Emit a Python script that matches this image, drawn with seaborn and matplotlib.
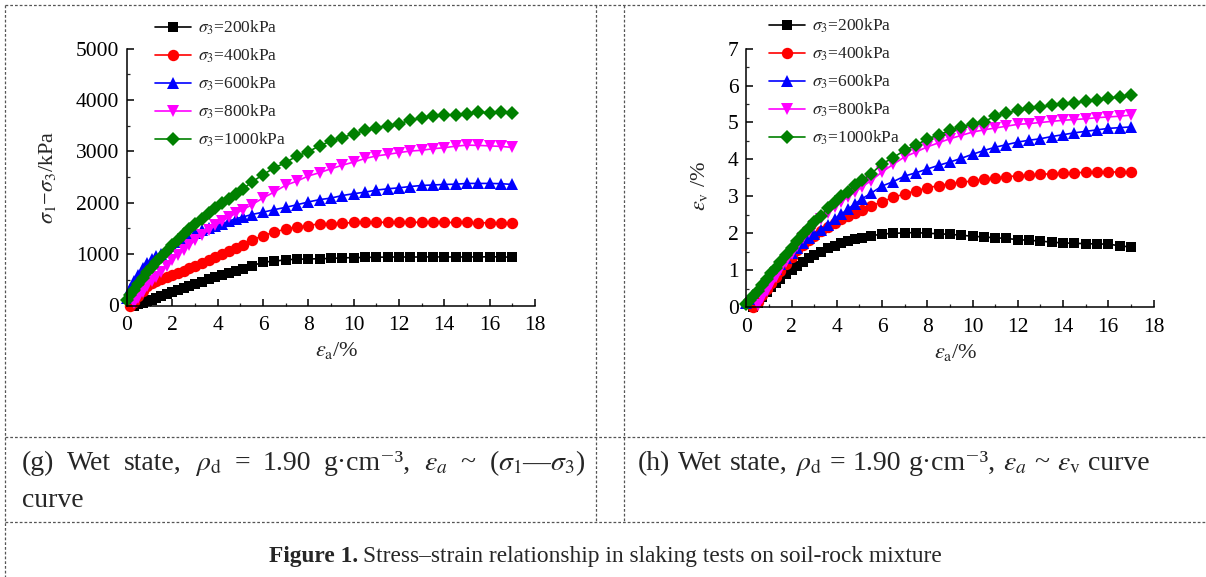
"""Slaking test figure: deviator stress and volumetric strain vs axial strain."""

import matplotlib
matplotlib.use("Agg")

import matplotlib.pyplot as plt
import numpy as np
import pandas as pd
import seaborn as sns
from matplotlib.lines import Line2D
from matplotlib.ticker import MultipleLocator

nan = np.nan

# axial strain (%), shared by all series
strain = [0, 0.15, 0.3, 0.5, 0.7, 0.9, 1.1, 1.3, 1.5, 1.75, 2.0, 2.25, 2.5, 2.75,
          3.0, 3.3, 3.6, 3.9, 4.2, 4.5, 4.8, 5.1, 5.5, 6.0, 6.5, 7.0, 7.5, 8.0,
          8.5, 9.0, 9.5, 10.0, 10.5, 11.0, 11.5, 12.0, 12.5, 13.0, 13.5, 14.0,
          14.5, 15.0, 15.5, 16.0, 16.5, 17.0]

labels = [r"$\sigma_3$=200kPa", r"$\sigma_3$=400kPa", r"$\sigma_3$=600kPa",
          r"$\sigma_3$=800kPa", r"$\sigma_3$=1000kPa"]
colors = ["black", "#FF0000", "#0000FF", "#FF00FF", "#008000"]
markers = ["s", "o", "^", "v", "D"]

# (g) deviator stress sigma1 - sigma3 (kPa)
q_200 = [nan, nan, 0, 20, 50, 80, 110, 150, 180, 220, 265, 300, 345, 385, 420,
         460, 510, 550, 590, 630, 670, 710, 770, 843, 862, 889, 901, 905, 910,
         915, 928, 930, 935, 940, 942, 945, 942, 945, 945, 945, 943, 945, 945,
         948, 945, 940]
q_400 = [nan, 0, 60, 180, 290, 380, 440, 480, 510, 550, 590, 630, 680, 730, 770,
         830, 880, 940, 1000, 1060, 1120, 1180, 1270, 1360, 1425, 1490, 1525,
         1555, 1590, 1595, 1600, 1615, 1615, 1620, 1618, 1618, 1620, 1618, 1615,
         1615, 1615, 1615, 1610, 1610, 1610, 1605]
q_600 = [150, 320, 480, 600, 720, 820, 900, 960, 1010, 1080, 1150, 1230, 1300,
         1360, 1410, 1460, 1500, 1550, 1590, 1640, 1690, 1720, 1770, 1815, 1865,
         1910, 1960, 2015, 2060, 2090, 2140, 2175, 2205, 2245, 2270, 2290, 2315,
         2335, 2345, 2355, 2360, 2375, 2375, 2375, 2370, 2355]
q_800 = [nan, nan, 50, 150, 270, 380, 480, 560, 650, 770, 890, 990, 1080, 1170,
         1270, 1370, 1470, 1560, 1640, 1720, 1790, 1860, 1960, 2090, 2210, 2340,
         2420, 2520, 2585, 2660, 2730, 2790, 2860, 2910, 2940, 2975, 3005, 3020,
         3050, 3070, 3100, 3120, 3115, 3105, 3095, 3075]
q_1000 = [100, 200, 300, 420, 540, 650, 750, 840, 950, 1060, 1170, 1280, 1390,
          1490, 1580, 1680, 1790, 1890, 1990, 2080, 2170, 2260, 2400, 2545, 2680,
          2780, 2910, 2990, 3110, 3200, 3265, 3340, 3405, 3460, 3495, 3530, 3610,
          3640, 3680, 3700, 3715, 3735, 3760, 3750, 3760, 3740]

# (h) volumetric strain (%)
v_200 = [nan, nan, 0.0, 0.12, 0.27, 0.41, 0.54, 0.66, 0.77, 0.9, 1.02, 1.12,
         1.22, 1.32, 1.41, 1.5, 1.6, 1.67, 1.73, 1.79, 1.84, 1.88, 1.93, 1.98,
         2.0, 2.01, 2.02, 2.0, 1.99, 1.97, 1.95, 1.92, 1.9, 1.88, 1.86, 1.83,
         1.81, 1.79, 1.76, 1.74, 1.73, 1.72, 1.71, 1.71, 1.66, 1.63]
v_400 = [nan, nan, 0.0, 0.15, 0.33, 0.5, 0.66, 0.82, 0.98, 1.17, 1.36, 1.54,
         1.69, 1.82, 1.94, 2.06, 2.18, 2.29, 2.39, 2.48, 2.56, 2.63, 2.73, 2.86,
         2.97, 3.07, 3.15, 3.23, 3.29, 3.34, 3.38, 3.42, 3.46, 3.5, 3.53, 3.56,
         3.58, 3.6, 3.61, 3.63, 3.64, 3.65, 3.66, 3.66, 3.66, 3.66]
v_600 = [0.12, 0.22, 0.32, 0.45, 0.6, 0.75, 0.9, 1.04, 1.17, 1.32, 1.46, 1.6,
         1.74, 1.86, 1.98, 2.1, 2.22, 2.38, 2.52, 2.66, 2.8, 2.93, 3.08, 3.28,
         3.4, 3.55, 3.64, 3.74, 3.84, 3.93, 4.03, 4.14, 4.24, 4.33, 4.4, 4.47,
         4.52, 4.56, 4.62, 4.67, 4.72, 4.76, 4.8, 4.84, 4.86, 4.88]
v_800 = [nan, nan, nan, 0.05, 0.25, 0.45, 0.64, 0.82, 1.0, 1.22, 1.44, 1.66,
         1.86, 2.04, 2.2, 2.38, 2.54, 2.7, 2.85, 2.99, 3.12, 3.25, 3.42, 3.66,
         3.87, 4.07, 4.2, 4.34, 4.45, 4.56, 4.65, 4.74, 4.8, 4.85, 4.9, 4.95,
         4.97, 5.0, 5.03, 5.06, 5.08, 5.1, 5.13, 5.15, 5.17, 5.2]
v_1000 = [0.1, 0.2, 0.3, 0.44, 0.6, 0.76, 0.92, 1.07, 1.22, 1.41, 1.6, 1.8,
          1.98, 2.14, 2.3, 2.48, 2.68, 2.86, 3.0, 3.12, 3.3, 3.43, 3.6, 3.88,
          4.05, 4.25, 4.38, 4.56, 4.66, 4.79, 4.88, 4.97, 5.02, 5.17, 5.25, 5.33,
          5.38, 5.42, 5.46, 5.51, 5.54, 5.57, 5.6, 5.65, 5.7, 5.75]

sns.set_style("ticks")
plt.rcParams["font.family"] = ["Liberation Serif", "DejaVu Serif"]
plt.rcParams["mathtext.fontset"] = "stix"
plt.rcParams["axes.unicode_minus"] = False

W, H = 1206, 577
FS = 15.5
marker_sizes = {"s": 7.0, "o": 8.2, "^": 8.6, "v": 8.6, "D": 7.6}


def long_frame(series):
    parts = [pd.DataFrame({"strain": strain, "value": vals, "series": lab})
             for lab, vals in zip(labels, series)]
    return pd.concat(parts, ignore_index=True)


def draw_panel(ax, series, ymax, ystep):
    df = long_frame(series)
    sns.lineplot(data=df, x="strain", y="value", hue="series", style="series",
                 hue_order=labels, style_order=labels,
                 palette=dict(zip(labels, colors)),
                 markers=dict(zip(labels, markers)), dashes=False,
                 estimator=None, sort=False, legend=False, ax=ax,
                 linewidth=1.2, markeredgewidth=0, clip_on=False)
    for line in ax.lines:
        m = line.get_marker()
        if m in marker_sizes:
            line.set_markersize(marker_sizes[m])

    ax.set_xlim(0, 18)
    ax.set_ylim(0, ymax)
    ax.xaxis.set_major_locator(MultipleLocator(2))
    ax.xaxis.set_minor_locator(MultipleLocator(1))
    ax.yaxis.set_major_locator(MultipleLocator(ystep))
    ax.yaxis.set_minor_locator(MultipleLocator(ystep / 2))
    sns.despine(ax=ax)
    for s in ("left", "bottom"):
        ax.spines[s].set_linewidth(1.1)
        ax.spines[s].set_color("black")
    ax.tick_params(which="major", direction="in", length=5, width=1.1,
                   labelsize=FS, colors="black")
    ax.tick_params(which="minor", direction="in", length=2.5, width=0.9)
    ax.tick_params(axis="y", which="major", pad=5.5)
    ax.tick_params(axis="x", which="major", pad=7.5)
    ax.set_xlabel(r"$\varepsilon_{\rm a}$/%", fontsize=FS + 0.5)
    ax.xaxis.set_label_coords(0.515, -0.135)

    handles = [Line2D([], [], color=c, marker=m, markersize=marker_sizes[m],
                      markeredgewidth=0, linewidth=1.2)
               for c, m in zip(colors, markers)]
    return handles


fig = plt.figure(figsize=(W / 100, H / 100), dpi=100)
ax1 = fig.add_axes([127 / W, 1 - 305.5 / H, 408 / W, 257 / H])
ax2 = fig.add_axes([746.3 / W, 1 - 307.2 / H, 407.2 / W, 258.6 / H])

h1 = draw_panel(ax1, [q_200, q_400, q_600, q_800, q_1000], 5000, 1000)
h2 = draw_panel(ax2, [v_200, v_400, v_600, v_800, v_1000], 7, 1)

ax1.set_ylabel(r"$\sigma_1$−$\sigma_3$/kPa", fontsize=FS + 0.5)
ax1.yaxis.set_label_coords(-0.17, 0.5)
ax2.set_ylabel(r"$\varepsilon_{\rm v}$ /%", fontsize=FS + 0.5)
ax2.yaxis.set_label_coords(-0.088, 0.47)

for ax, h, x0, y0 in ((ax1, h1, 155, 19), (ax2, h2, 769, 17)):
    ax.legend(h, labels, loc="upper left", bbox_to_anchor=(x0 / W, 1 - y0 / H),
              bbox_transform=fig.transFigure, frameon=False, fontsize=12.5,
              borderpad=0, borderaxespad=0, handlelength=2.1,
              handletextpad=0.35, labelspacing=0.55, numpoints=1)

# table-like dashed frame
frame = [((5, 5), (1206, 5)), ((5, 5), (5, 577)),
         ((596, 5), (596, 522)), ((624, 5), (624, 522)),
         ((5, 437), (1206, 437)), ((5, 522), (1206, 522))]
for (xa, ya), (xb, yb) in frame:
    fig.add_artist(Line2D([xa / W, xb / W], [1 - ya / H, 1 - yb / H],
                          transform=fig.transFigure, color="#555555",
                          linewidth=0.9, linestyle=(0, (2.2, 1.6))))

renderer = fig.canvas.get_renderer()
CAP = 20


def word_row(words, x0, y, size, x1=None, gap=6.5):
    """Place words on one baseline; spread them to x1 when given (justify)."""
    texts = [fig.text(0, 1 - y / H, w, fontsize=size, va="baseline")
             for w in words]
    widths = [t.get_window_extent(renderer).width for t in texts]
    if x1 is not None:
        gap = (x1 - x0 - sum(widths)) / (len(words) - 1)
    x = x0
    for t, w in zip(texts, widths):
        t.set_x(x / W)
        x += w + gap


word_row(["(g)", "Wet", "state,", r"$\rho_{\rm d}$", "=", "1.90",
          "g·cm⁻³,", r"$\varepsilon_a$", "~",
          r"($\sigma_1$—$\sigma_3$)"], 22, 470, CAP, x1=585)
fig.text(22 / W, 1 - 507 / H, "curve", fontsize=CAP, va="baseline")
word_row(["(h)", "Wet", "state,", r"$\rho_{\rm d}$", "=", "1.90",
          "g·cm⁻³,", r"$\varepsilon_a$", "~", r"$\varepsilon_{\rm v}$",
          "curve"], 638, 470, CAP, x1=1150)

t_bold = fig.text(269 / W, 1 - 562 / H, "Figure 1.", fontsize=16.8,
                  fontweight="bold", va="baseline")
bw = t_bold.get_window_extent(renderer).width
fig.text((269 + bw + 5) / W, 1 - 562 / H,
         "Stress–strain relationship in slaking tests on soil-rock mixture",
         fontsize=16.8, va="baseline")

fig.savefig("out.png", dpi=100)
plt.close(fig)
